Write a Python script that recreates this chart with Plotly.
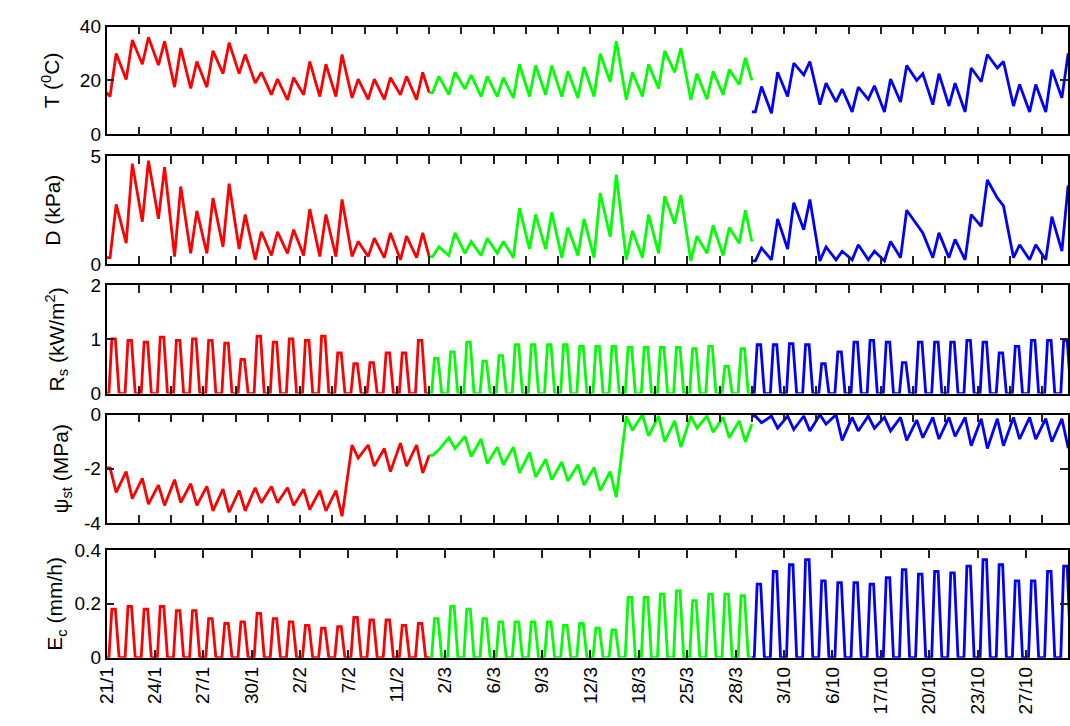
import plotly.graph_objects as go

# ---------------- data ----------------
SEG_START = [0, 20, 40]          # day index where each period starts
SEG_COLORS = ["#ff0000", "#00ff00", "#0000ff"]
DAYS_PER_SEG = 20

tick_labels = ["21/1", "24/1", "27/1", "30/1", "2/2", "7/2", "11/2",
               "2/3", "6/3", "9/3", "12/3", "18/3", "25/3", "28/3",
               "3/10", "6/10", "17/10", "20/10", "23/10", "27/10"]

# Air temperature (degC): morning minimum and afternoon maximum per day
T_morning = [14, 20.3, 26, 25.7, 17.5, 17, 17.5, 22.5, 22.5, 19, 14.7, 12.8, 14.7, 14, 14, 13.5, 13, 13, 14.7, 12.8,
             15.5, 14.7, 16.8, 14, 14, 13.5, 14, 14.7, 14, 13.5, 14, 19.5, 12.8, 14, 17, 23, 12.8, 13, 14.7, 18.5,
             8.3, 7.8, 14, 22, 11, 12, 8.3, 13, 8.3, 12, 20, 11, 10.5, 8.3, 19.5, 24.6, 10.5, 8.3, 8.3, 13.5]
T_afternoon = [30, 35, 36, 34.5, 32, 27, 31, 34, 29.6, 23, 20.5, 21, 27, 26, 29.6, 20.5, 20.5, 21, 21.5, 23,
               21.5, 23, 22, 21.5, 21, 26, 25.5, 25.5, 23.4, 25, 29.9, 34.5, 23, 26, 31, 32, 22.5, 23.4, 24, 28.4,
               17.7, 23, 26.4, 27, 19, 16.8, 17.5, 18, 20.5, 25.5, 22.5, 22.5, 19, 24.6, 29.6, 27, 18.5, 18.5, 24, 29.6]
T_seg_start = [15.5, 15.5, 8.3]
T_seg_end = [15.5, 20, 30]

# Vapour pressure deficit D (kPa)
D_morning = [0.3, 0.97, 1.97, 2.1, 0.35, 0.5, 0.5, 0.8, 0.7, 0.2, 0.4, 0.5, 0.4, 0.35, 0.35, 0.35, 0.35, 0.3, 0.2, 0.3,
             0.35, 0.4, 0.5, 0.4, 0.5, 0.3, 0.7, 0.7, 0.3, 0.4, 0.3, 1.27, 0.2, 0.3, 0.5, 1.87, 0.15, 0.5, 0.4, 0.97,
             0.15, 0.2, 0.7, 1.6, 0.15, 0.2, 0.2, 0.2, 0.15, 0.3, 1.87, 0.3, 0.3, 0.2, 1.75, 3.07, 0.3, 0.2, 0.2, 0.6]
D_afternoon = [2.77, 4.66, 4.8, 4.5, 3.6, 2.47, 3.07, 3.73, 2.3, 1.5, 1.5, 1.6, 2.55, 2.3, 3.0, 1.05, 1.2, 1.45, 1.3, 1.45,
               0.8, 1.45, 1.05, 1.2, 1.05, 2.6, 2.3, 2.4, 1.7, 2.1, 3.3, 4.15, 1.55, 2.3, 3.15, 3.2, 1.3, 1.8, 1.7, 2.5,
               0.75, 2.1, 2.85, 3.0, 0.8, 0.6, 0.9, 0.6, 1.05, 2.5, 1.45, 1.45, 1.15, 2.3, 3.9, 2.7, 0.9, 0.9, 2.2, 3.6]
D_seg_start = [0.3, 0.35, 0.15]
D_seg_end = [0.35, 1.05, 3.7]

# Solar radiation Rs (kW/m2): daily peak (zero at night)
Rs_peak = [1.01, 0.98, 0.95, 1.04, 0.98, 1.01, 0.98, 0.93, 0.63, 1.06, 0.95, 1.01, 0.98, 1.06, 0.75, 0.55, 0.57, 0.75, 0.75, 0.98,
           0.65, 0.77, 0.95, 0.6, 0.7, 0.9, 0.9, 0.9, 0.9, 0.87, 0.87, 0.87, 0.85, 0.85, 0.85, 0.85, 0.83, 0.87, 0.5, 0.83,
           0.9, 0.9, 0.92, 0.9, 0.55, 0.77, 0.95, 0.98, 0.95, 0.57, 0.95, 0.95, 0.95, 0.98, 0.95, 0.75, 0.87, 0.98, 0.98, 0.98]
Rs_night = 0.0

# Stem water potential psi_st (MPa): pre-dawn value and midday minimum
Psi_morning = [-1.97, -2.1, -2.35, -2.6, -2.4, -2.55, -2.65, -2.75, -2.8, -2.7, -2.65, -2.7, -2.75, -2.8, -2.8, -1.12, -1.12, -1.25, -1.05, -1.12,
               -1.5, -0.85, -0.8, -0.9, -1.2, -1.2, -1.4, -1.65, -1.75, -1.85, -1.95, -2.1, -0.06, 0.0, -0.05, -0.23, -0.05, -0.05, -0.1, -0.23,
               -0.05, -0.05, -0.05, -0.05, 0.0, 0.0, -0.1, -0.05, -0.1, -0.1, -0.2, -0.1, -0.1, -0.1, -0.15, -0.15, -0.1, -0.1, -0.15, -0.15]
Psi_afternoon = [-2.87, -3.1, -3.3, -3.35, -3.25, -3.35, -3.55, -3.6, -3.55, -3.25, -3.25, -3.35, -3.5, -3.55, -3.75, -1.6, -1.9, -2.1, -1.9, -2.15,
                 -1.3, -1.25, -1.55, -1.8, -1.85, -2.15, -2.3, -2.4, -2.45, -2.6, -2.8, -3.05, -0.58, -0.78, -1.0, -1.2, -0.5, -0.65, -0.85, -1.0,
                 -0.3, -0.5, -0.55, -0.6, -0.35, -0.95, -0.6, -0.5, -0.6, -0.95, -0.85, -0.9, -0.8, -1.15, -1.25, -1.15, -0.9, -0.9, -1.0, -1.2]
Psi_seg_start = [-1.97, -1.5, -0.05]
Psi_seg_end = [-1.5, -0.35, -1.2]

# Canopy transpiration Ec (mm/h): daily peak (zero at night)
Ec_peak = [0.18, 0.19, 0.18, 0.19, 0.175, 0.175, 0.145, 0.127, 0.133, 0.164, 0.145, 0.133, 0.12, 0.11, 0.115, 0.15, 0.14, 0.14, 0.12, 0.127,
           0.145, 0.19, 0.18, 0.145, 0.133, 0.133, 0.133, 0.133, 0.12, 0.127, 0.11, 0.103, 0.224, 0.224, 0.236, 0.248, 0.212, 0.236, 0.236, 0.23,
           0.273, 0.32, 0.345, 0.364, 0.285, 0.279, 0.279, 0.273, 0.297, 0.327, 0.31, 0.32, 0.315, 0.34, 0.364, 0.345, 0.285, 0.285, 0.32, 0.34]
Ec_night = 0.0

# ---------------- helpers to lay daily readings on the time axis ----------------
T_MORNING, T_AFTERNOON = 0.22, 0.60              # fraction of day
PULSE_T = [0.15, 0.33, 0.55, 0.78]               # sunrise, plateau start/end, sunset


def diurnal(morning, afternoon, seg_start_vals, seg_end_vals, s):
    d0 = SEG_START[s]
    xs, ys = [d0], [seg_start_vals[s]]
    for d in range(d0, d0 + DAYS_PER_SEG):
        xs += [d + T_MORNING, d + T_AFTERNOON]
        ys += [morning[d], afternoon[d]]
    xs.append(d0 + DAYS_PER_SEG)
    ys.append(seg_end_vals[s])
    return xs, ys


def pulses(peak, night, s):
    d0 = SEG_START[s]
    xs, ys = [d0], [night]
    for d in range(d0, d0 + DAYS_PER_SEG):
        xs += [d + t for t in PULSE_T]
        ys += [night, peak[d], peak[d], night]
    xs.append(d0 + DAYS_PER_SEG)
    ys.append(night)
    return xs, ys


# ---------------- figure ----------------
W, H = 1070, 726
FONT = "Liberation Sans"
X0, X1 = 96.5 / W, 1068 / W
XMAX = 59.6

panels = [  # (top px, bottom px, y range, tickvals, ticktext, title, standoff)
    (17, 128, [0, 40], [0, 20, 40], ["0", "20", "40"], "T (<sup>0</sup>C)", 14),
    (150.7, 261.7, [0, 5], [0, 5], ["0", "5"], "D (kPa)", 24),
    (283.3, 395, [0, 2], [0, 1, 2], ["0", "1", "2"], "R<sub>s</sub> (kW/m<sup>2</sup>)", 20),
    (416.7, 528.3, [-4, 0], [-4, -2, 0], ["-4", "-2", "0"], "\u03c8<sub>st</sub> (MPa)", 10),
    (556, 667, [0, 0.4], [0, 0.2, 0.4], ["0", "0.2", "0.4"], "E<sub>c</sub> (mm/h)", 6),
]

fig = go.Figure()

series_builders = [
    lambda s: diurnal(T_morning, T_afternoon, T_seg_start, T_seg_end, s),
    lambda s: diurnal(D_morning, D_afternoon, D_seg_start, D_seg_end, s),
    lambda s: pulses(Rs_peak, Rs_night, s),
    lambda s: diurnal(Psi_morning, Psi_afternoon, Psi_seg_start, Psi_seg_end, s),
    lambda s: pulses(Ec_peak, Ec_night, s),
]

for p, build in enumerate(series_builders):
    ax = "" if p == 0 else str(p + 1)
    for s in range(3):
        xs, ys = build(s)
        fig.add_trace(go.Scatter(x=xs, y=ys, mode="lines",
                                 line=dict(color=SEG_COLORS[s], width=2.8),
                                 xaxis="x" + ax, yaxis="y" + ax, showlegend=False))

layout = dict(width=W, height=H, margin=dict(l=0, r=0, t=0, b=0), plot_bgcolor="white")

for p, (top, bot, yr, tv, tt, title, standoff) in enumerate(panels):
    ax = "" if p == 0 else str(p + 1)
    last = p == len(panels) - 1
    ydom = [1 - bot / H, 1 - top / H]
    xa = dict(domain=[X0, X1], range=[0, XMAX], anchor="y" + ax,
              showline=True, linecolor="black", linewidth=1.5, mirror="ticks",
              ticks="inside", ticklen=8, tickwidth=1.5, tickcolor="#222",
              showgrid=False, zeroline=False)
    if last:
        xa.update(tickvals=list(range(0, 58, 3)), ticktext=tick_labels,
                  tickangle=-90, showticklabels=True,
                  tickfont=dict(family=FONT, size=19, color="black"))
    else:
        xa.update(tickvals=list(range(0, 60, 2)), showticklabels=False)
    ya = dict(domain=ydom, range=yr, anchor="x" + ax,
              showline=True, linecolor="black", linewidth=1.5, mirror="ticks",
              ticks="inside", ticklen=8, tickwidth=1.5, tickcolor="#222",
              tickvals=tv, ticktext=tt,
              tickfont=dict(family=FONT, size=19, color="black"),
              title=dict(text=title, standoff=standoff,
                         font=dict(family=FONT, size=21, color="black")),
              showgrid=False, zeroline=False)
    layout["xaxis" + ax] = xa
    layout["yaxis" + ax] = ya

fig.update_layout(**layout)
fig.write_html("out.html")
